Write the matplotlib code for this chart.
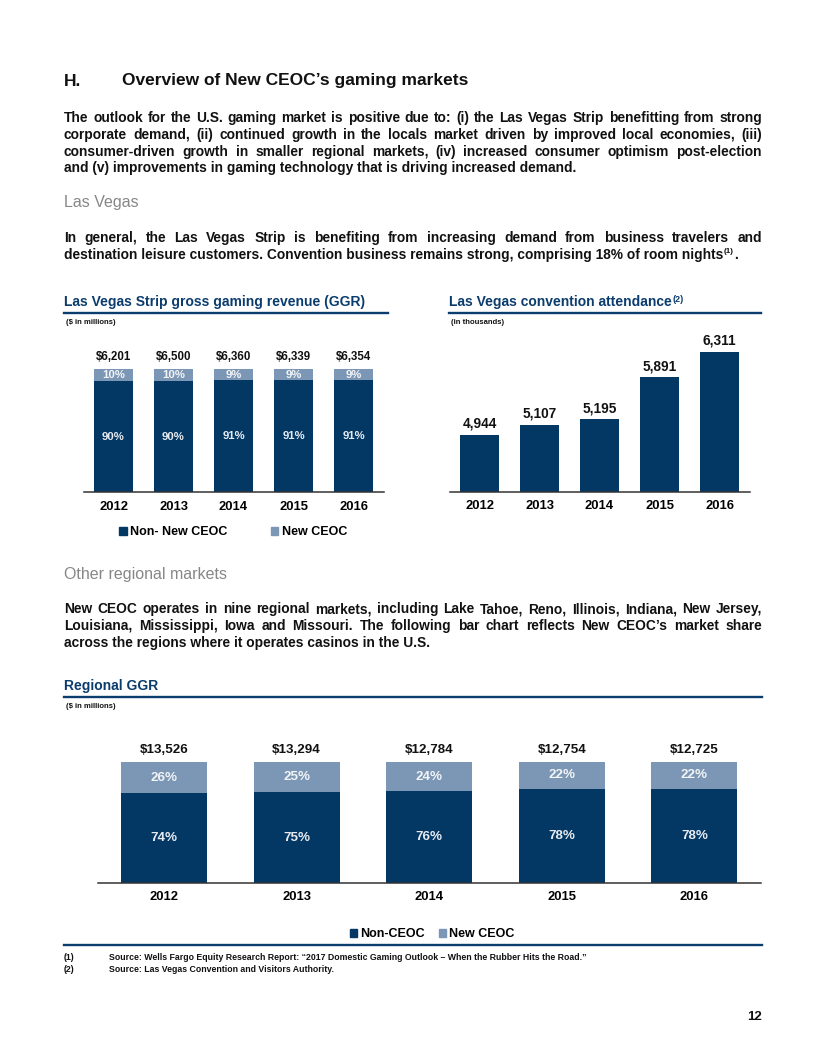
import matplotlib
matplotlib.use('Agg')
import matplotlib.pyplot as plt
from matplotlib.lines import Line2D
from matplotlib.patches import Patch

W, H = 816, 1056
plt.rcParams['font.family'] = ['Liberation Sans', 'DejaVu Sans']

NAVY = '#033764'
LIGHT = '#7b97b5'
TITLE = '#0b3c6e'
GRAY = '#878787'
INK = '#111111'

# data
years = ['2012', '2013', '2014', '2015', '2016']
strip_total = ['$6,201', '$6,500', '$6,360', '$6,339', '$6,354']
strip_non = [90, 90, 91, 91, 91]
strip_new = [10, 10, 9, 9, 9]
conv_att = [4944, 5107, 5195, 5891, 6311]
reg_total = ['$13,526', '$13,294', '$12,784', '$12,754', '$12,725']
reg_non = [74, 75, 76, 78, 78]
reg_new = [26, 25, 24, 22, 22]

para1 = ["The outlook for the U.S. gaming market is positive due to: (i) the Las Vegas Strip benefitting from strong",
         "corporate demand, (ii) continued growth in the locals market driven by improved local economies, (iii)",
         "consumer-driven growth in smaller regional markets, (iv) increased consumer optimism post-election",
         "and (v) improvements in gaming technology that is driving increased demand."]
para2 = ["In general, the Las Vegas Strip is benefiting from increasing demand from business travelers and",
         "destination leisure customers. Convention business remains strong, comprising 18% of room nights"]
para3 = ["New CEOC operates in nine regional markets, including Lake Tahoe, Reno, Illinois, Indiana, New Jersey,",
         "Louisiana, Mississippi, Iowa and Missouri. The following bar chart reflects New CEOC\u2019s market share",
         "across the regions where it operates casinos in the U.S."]

fig = plt.figure(figsize=(W / 100, H / 100), dpi=100)
fig.patch.set_facecolor('white')
R = fig.canvas.get_renderer()


def fx(x):
    return x / W


def fy(y):
    return 1 - y / H


def put(x, y, s, **kw):
    kw.setdefault('va', 'center')
    kw.setdefault('ha', 'left')
    kw.setdefault('color', INK)
    return fig.text(fx(x), fy(y), s, **kw)


def width(t):
    return t.get_window_extent(R).width


BODY = dict(fontsize=9.9, fontweight='bold', va='baseline')
LIFT = 5  # center of x-height to baseline, px


def paragraph(lines, y0, step, x0=64, x1=762):
    # justified lines, last line left aligned
    last = None
    for k, line in enumerate(lines):
        y = y0 + k * step + LIFT
        if k == len(lines) - 1:
            last = put(x0, y, line, **BODY)
            continue
        words = line.split(' ')
        ts = [put(x0, y, w, **BODY) for w in words]
        ws = [width(t) for t in ts]
        gap = (x1 - x0 - sum(ws)) / (len(words) - 1)
        x = x0
        for t, w in zip(ts, ws):
            t.set_x(fx(x))
            x += w + gap
    return last


# headings and text
put(64, 81, 'H.', fontsize=12.5, fontweight='bold')
put(122, 81, 'Overview of New CEOC\u2019s gaming markets', fontsize=12.5, fontweight='bold')
paragraph(para1, 117, 16.8)
put(64, 203, 'Las Vegas', fontsize=11.5, color=GRAY)
t = paragraph(para2, 237, 16.8)
yb = 237 + 16.8 + LIFT
s = put(64 + width(t) + 0.5, yb - 6, '(1)', fontsize=5.8, fontweight='bold', va='baseline')
put(64 + width(t) + width(s) + 1, yb, '.', **BODY)
put(64, 575, 'Other regional markets', fontsize=11.5, color=GRAY)
paragraph(para3, 608, 17)

# chart titles
t = put(64, 302, 'Las Vegas Strip gross gaming revenue (GGR)', fontsize=10, fontweight='bold', color=TITLE)
put(66, 323, '($ in millions)', fontsize=5.5, fontweight='bold')
t = put(449, 302, 'Las Vegas convention attendance', fontsize=10, fontweight='bold', color=TITLE)
put(449 + width(t) + 0.5, 299, '(2)', fontsize=6.5, fontweight='bold', color=TITLE)
put(451, 323, '(in thousands)', fontsize=5.5, fontweight='bold')
put(64, 686, 'Regional GGR', fontsize=10, fontweight='bold', color=TITLE)
put(66, 707, '($ in millions)', fontsize=5.5, fontweight='bold')

for (xa, xb, y) in [(64, 388, 313), (449, 761, 313), (64, 762, 697), (64, 762, 945)]:
    fig.add_artist(Line2D([fx(xa), fx(xb)], [fy(y), fy(y)], color=TITLE, lw=1.7))


def make_ax(left, right, top, bottom):
    ax = fig.add_axes([fx(left), fy(bottom), (right - left) / W, (bottom - top) / H])
    for sp in ['top', 'left', 'right']:
        ax.spines[sp].set_visible(False)
    ax.spines['bottom'].set_color('#333333')
    ax.spines['bottom'].set_linewidth(1.1)
    ax.set_yticks([])
    ax.tick_params(axis='x', length=0, pad=6)
    ax.set_xlim(-0.5, 4.5)
    ax.set_facecolor('none')
    return ax


def stacked(ax, non, new, totals, fs_val, fs_pct):
    x = list(range(len(years)))
    ax.bar(x, non, width=0.65, color=NAVY)
    ax.bar(x, new, bottom=non, width=0.65, color=LIGHT)
    ax.set_ylim(0, 100)
    for i in x:
        ax.annotate(totals[i], (i, non[i] + new[i]), xytext=(0, 8.6), textcoords='offset points',
                    ha='center', va='center', fontsize=fs_val, fontweight='bold', color=INK,
                    annotation_clip=False)
        ax.text(i, non[i] + new[i] / 2, f'{new[i]}%', ha='center', va='center',
                fontsize=fs_pct, fontweight='bold', color='#f2f4f7')
        ax.text(i, non[i] / 2, f'{non[i]}%', ha='center', va='center',
                fontsize=fs_pct, fontweight='bold', color='#e8ecf1')


# chart 1
ax1 = make_ax(83.5, 383.5, 369, 492.5)
stacked(ax1, strip_non, strip_new, strip_total, 8.3, 8.2)
ax1.set_xticks(range(5), years, fontsize=9.4, fontweight='bold')
hand = [Patch(color=NAVY, label='Non- New CEOC'), Patch(color=LIGHT, label='New CEOC')]
fig.legend(handles=hand, loc='center', bbox_to_anchor=(fx(233), fy(532)), ncol=2, frameon=False,
           prop=dict(size=9, weight='bold'), handlelength=0.6, handleheight=0.6,
           handletextpad=0.25, columnspacing=3.5)

# chart 2
ax2 = make_ax(449.5, 749.5, 340, 492)
ax2.bar(range(5), conv_att, width=0.65, color=NAVY)
ax2.set_ylim(4000, 6504)
for i, v in enumerate(conv_att):
    ax2.annotate(f'{v:,}', (i, v), xytext=(0, 8), textcoords='offset points', ha='center',
                 va='center', fontsize=9.8, fontweight='bold', color=INK, annotation_clip=False)
ax2.set_xticks(range(5), years, fontsize=9.4, fontweight='bold')

# chart 3
ax3 = make_ax(97.7, 760.7, 762, 883)
stacked(ax3, reg_non, reg_new, reg_total, 9.6, 9.6)
ax3.set_xticks(range(5), years, fontsize=9.4, fontweight='bold')
hand = [Patch(color=NAVY, label='Non-CEOC'), Patch(color=LIGHT, label='New CEOC')]
fig.legend(handles=hand, loc='center', bbox_to_anchor=(fx(432), fy(934)), ncol=2, frameon=False,
           prop=dict(size=9, weight='bold'), handlelength=0.6, handleheight=0.6,
           handletextpad=0.25, columnspacing=1.1)

# footnotes
put(64, 957, '(1)', fontsize=6.3, fontweight='bold')
put(109, 957, 'Source: Wells Fargo Equity Research Report: \u201c2017 Domestic Gaming Outlook \u2013 When the Rubber Hits the Road.\u201d',
    fontsize=6.3, fontweight='bold')
put(64, 969, '(2)', fontsize=6.3, fontweight='bold')
put(109, 969, 'Source: Las Vegas Convention and Visitors Authority.', fontsize=6.3, fontweight='bold')
put(762, 1017, '12', fontsize=9.5, fontweight='bold', ha='right')

fig.savefig('out.png', dpi=100, facecolor='white')
